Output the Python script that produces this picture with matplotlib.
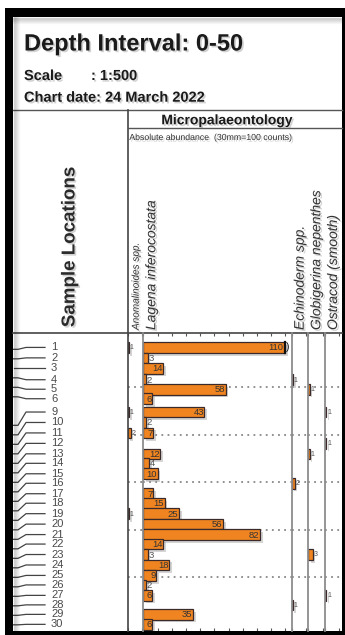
import matplotlib
matplotlib.use("Agg")

import matplotlib.pyplot as plt
import matplotlib.patheffects as pe
from matplotlib.patches import Rectangle

plt.rcParams["font.family"] = ["Liberation Sans", "DejaVu Sans"]

W, H = 345, 635

title = "Depth Interval: 0-50"
scale = "1:500"
chart_date = "24 March 2022"
group = "Micropalaeontology"
subhead = "Absolute abundance  (30mm=100 counts)"
loc_head = "Sample Locations"

samples = ["1", "2", "3", "4", "5", "6", "9", "10", "11", "12", "13", "14", "15", "16",
           "17", "18", "19", "20", "21", "22", "23", "24", "25", "26", "27", "28", "29", "30"]
depths = [1, 2, 3, 4, 5, 6, 9, 10, 11, 12, 13, 14, 15, 16,
          17, 18, 19, 20, 21, 22, 23, 24, 25, 26, 27, 28, 29, 30]
plot_pos = [0.8, 1.9, 3.0, 4.2, 5.2, 6.2, 7.6, 8.7, 9.8, 10.9, 12.0, 13.0, 14.1, 15.1,
            16.2, 17.2, 18.3, 19.4, 20.5, 21.5, 22.6, 23.7, 24.8, 25.8, 26.9, 27.9, 28.9, 29.95]

taxa = ["Anomalinoides spp.", "Lagena inferocostata", "Echinoderm spp.",
        "Globigerina nepenthes", "Ostracod (smooth)"]
anomalinoides = [1, 0, 0, 0, 0, 0, 1, 0, 2, 0, 0, 0, 0, 0, 0, 0, 1, 0, 0, 0, 0, 0, 0, 0, 0, 0, 0, 0]
lagena = [110, 3, 14, 2, 58, 6, 43, 2, 7, 0, 12, 4, 10, 0, 7, 15, 25, 56, 82, 14, 3, 18, 9, 2, 6, 0, 35, 6]
echinoderm = [0, 0, 0, 1, 0, 0, 0, 0, 0, 0, 0, 0, 0, 2, 0, 0, 0, 0, 0, 0, 0, 0, 0, 0, 0, 1, 0, 0]
globigerina = [0, 0, 0, 0, 1, 0, 0, 0, 0, 0, 1, 0, 0, 0, 0, 0, 0, 0, 0, 0, 3, 0, 0, 0, 0, 0, 0, 0]
ostracod = [0, 0, 0, 0, 0, 0, 1, 0, 0, 1, 0, 0, 0, 0, 0, 0, 0, 0, 0, 0, 0, 0, 0, 0, 1, 0, 0, 0]
grid_depths = [5, 10, 15, 20, 25]

counts = [anomalinoides, lagena, echinoderm, globigerina, ostracod]

# layout in pixels
col_x = [127.7, 143.3, 291.7, 308.3, 325.0, 342.0]
y_top, y_bot = 332.7, 631.0
ppc = 1.42          # pixels per count
dlim = (30.65, -0.75)
cmax = 100

orange = "#EF8420"
edge = "#3a2a2a"
shadow_txt = [pe.withSimplePatchShadow(offset=(1.2, -1.2), shadow_rgbFace="#999999", alpha=0.45)]
shadow_bar = [pe.SimplePatchShadow(offset=(2, -2), shadow_rgbFace="#888888", alpha=0.35), pe.Normal()]

fig = plt.figure(figsize=(W / 100, H / 100), dpi=100)

bg = fig.add_axes([0, 0, 1, 1], zorder=0)
bg.set_xlim(0, W)
bg.set_ylim(H, 0)
bg.axis("off")


def box(x0, y0, x1, y1, z=1):
    a = fig.add_axes([x0 / W, 1 - y1 / H, (x1 - x0) / W, (y1 - y0) / H], zorder=z)
    a.set_facecolor("none")
    return a


# header text
bg.text(24, 50.5, title, fontsize=17, fontweight="bold", color="#1a1a1a", path_effects=shadow_txt)
bg.text(24, 80, "Scale", fontsize=10.5, fontweight="bold", color="#1a1a1a", path_effects=shadow_txt)
bg.text(91, 80, ": " + scale, fontsize=10.5, fontweight="bold", color="#1a1a1a", path_effects=shadow_txt)
bg.text(24, 101.7, "Chart date: " + chart_date, fontsize=10.5, fontweight="bold", color="#1a1a1a",
        path_effects=shadow_txt)
bg.text(226.7, 124.3, group, fontsize=10, fontweight="bold", color="#1a1a1a", ha="center",
        path_effects=shadow_txt)
bg.text(129.3, 140, subhead, fontsize=6.3, color="#333333", path_effects=shadow_txt)
bg.text(70, 247, loc_head, fontsize=13.5, fontweight="bold", color="#2a2a2a", rotation=90,
        ha="center", va="center", path_effects=shadow_txt)

for i, t in enumerate(taxa):
    fs = 7.2 if i == 0 else 10
    bg.text(col_x[i] + 8, 330, t, fontsize=fs, style="italic", color="#333333",
            rotation=90, ha="center", va="bottom", path_effects=shadow_txt)

# sample location column
la = box(13, y_top, col_x[0], y_bot)
la.set_xlim(13, col_x[0])
la.set_ylim(*dlim)
la.axis("off")
for s, d, p in zip(samples, depths, plot_pos):
    la.plot([13.5, 18, 26, 45], [d, d, p, p], color="#444444", lw=0.9)
    la.text(51, p, s, fontsize=8, color="#4a4a4a", va="center", ha="left")

# abundance columns
for i, vals in enumerate(counts):
    x0, x1 = col_x[i], col_x[i + 1]
    ax = box(x0, y_top, x1, y_bot)
    ax.set_xlim(0, (x1 - x0) / ppc)
    ax.set_ylim(*dlim)
    for s in ax.spines.values():
        s.set_visible(False)
    ax.set_yticks([])
    ax.set_xticks(range(0, int((x1 - x0) / ppc) + 1, 10))
    ax.tick_params(axis="x", direction="in", top=True, bottom=True, labelbottom=False,
                   length=2.5, width=0.8, color="#555555")
    for g in grid_depths:
        ax.axhline(g, color="#888888", lw=1.3, ls=(0, (1, 2.4)), zorder=0)
    big = i == 1
    for v, p in zip(vals, plot_pos):
        if v == 0:
            continue
        w = min(v, cmax)
        ax.barh(p, w, height=1.12, left=0, color=orange, edgecolor=edge, lw=0.9,
                zorder=2, path_effects=shadow_bar)
        fs = 6.8 if big else 5
        if v > cmax:
            ax.plot([cmax, cmax], [p - 0.6, p + 0.6], color="#111111", lw=1.6, zorder=3)
            ax.text(cmax + 0.2, p, ")", fontsize=7.5, color="#111111", va="center", ha="left", zorder=3)
            ax.text(cmax - 1.2, p + 0.05, str(v), fontsize=fs, color="#333333", va="center",
                    ha="right", zorder=3)
        elif v >= 6:
            ax.text(w - 0.3, p + 0.05, str(v), fontsize=fs, color="#333333", va="center",
                    ha="right", zorder=3)
        else:
            ax.text(w + 0.5, p + 0.05, str(v), fontsize=fs, color="#555555", va="center",
                    ha="left", zorder=3)

# structure lines and frame on top
ov = fig.add_axes([0, 0, 1, 1], zorder=5)
ov.set_facecolor("none")
ov.set_xlim(0, W)
ov.set_ylim(H, 0)
ov.axis("off")

ov.plot([13, 342], [110, 110], color="#555555", lw=1)
ov.plot([col_x[0], col_x[0]], [110, y_bot], color="#444444", lw=1.2)
ov.plot([col_x[0], 342], [127.7, 127.7], color="#555555", lw=1)
ov.plot([13, 342], [y_top, y_top], color="#444444", lw=1.2)
for x in col_x[1:5]:
    ov.plot([x, x], [y_top, y_bot], color="#8c8c8c", lw=1.3)

for k in range(6):
    a = 0.16 * (1 - k / 6)
    ov.plot([13.5 + k, 13.5 + k], [17, 631], color="k", lw=1, alpha=a)
    ov.plot([13, 342], [17.5 + k, 17.5 + k], color="k", lw=1, alpha=a)

ov.add_patch(Rectangle((5, 8), 8, 627, color="black", lw=0))
ov.add_patch(Rectangle((5, 8), 340, 9, color="black", lw=0))
ov.add_patch(Rectangle((342, 8), 3, 627, color="black", lw=0))
ov.add_patch(Rectangle((5, 631), 340, 4, color="black", lw=0))

fig.savefig("out.png", dpi=100)
